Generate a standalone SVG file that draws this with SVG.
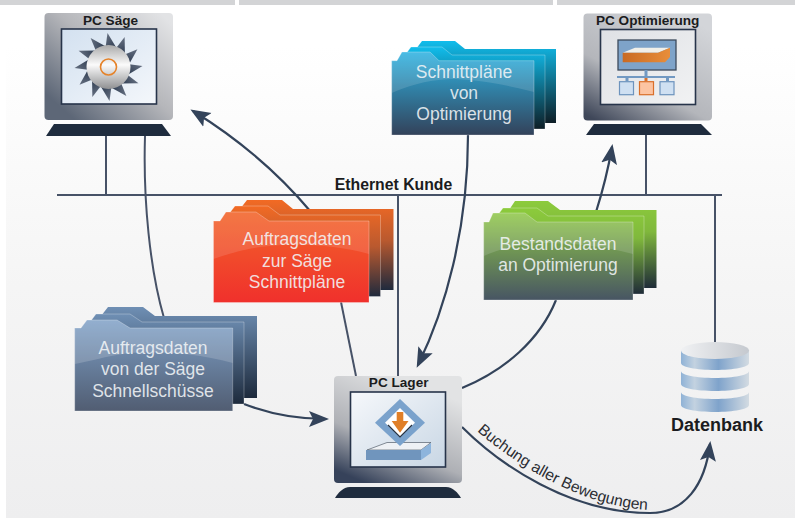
<svg xmlns="http://www.w3.org/2000/svg" xmlns:xlink="http://www.w3.org/1999/xlink" width="795" height="518" viewBox="0 0 795 518">
<style>
text{font-family:"Liberation Sans",Arial,sans-serif}
.title{font-weight:700;font-size:13.6px;fill:#1b1c20;text-anchor:middle}
.fl{font-size:17.5px;fill:#f2f5f7;fill-opacity:.88;text-anchor:middle}
.w{fill:none;stroke:#475267;stroke-width:2}
.a{fill:none;stroke:#33435a;stroke-width:2.2;marker-end:url(#arrow)}
.screen{stroke:#27344a;stroke-width:1.6}
.base{fill:#1f2c3e}
.fb{stroke:#fff;stroke-opacity:.35;stroke-width:.8}
</style>
<defs>
<marker id="arrow" markerUnits="userSpaceOnUse" markerWidth="20" markerHeight="18" viewBox="0 0 20 18" refX="17" refY="9" orient="auto"><path d="M0 1 L20 9 L0 17 L4 9Z" fill="#33435a"/></marker>
<linearGradient id="bg" x1="0" y1="0" x2="0" y2="1"><stop offset=".08" stop-color="#fff"/><stop offset=".55" stop-color="#f5f5f5"/><stop offset="1" stop-color="#eeeeef"/></linearGradient>
<linearGradient id="pcS" x1=".9" y1="0" x2=".05" y2=".8"><stop offset="0" stop-color="#e2e3e5"/><stop offset=".5" stop-color="#b5b6ba"/><stop offset="1" stop-color="#5d6777"/></linearGradient>
<linearGradient id="pcO" x1=".75" y1="0" x2=".1" y2="1"><stop offset="0" stop-color="#d3d5d9"/><stop offset=".6" stop-color="#b4b6bb"/><stop offset="1" stop-color="#3f4759"/></linearGradient>
<linearGradient id="pcL" x1=".7" y1=".1" x2=".25" y2="1"><stop offset="0" stop-color="#e2e3e4"/><stop offset=".6" stop-color="#aeb0b5"/><stop offset="1" stop-color="#36425a"/></linearGradient>
<linearGradient id="scr" x1="0" y1="0" x2="1" y2="1"><stop offset="0" stop-color="#d3e1f0"/><stop offset="1" stop-color="#f4f7fb"/></linearGradient>
<linearGradient id="scrO" x1="0" y1="0" x2="1" y2="1"><stop offset="0" stop-color="#dfe1e5"/><stop offset="1" stop-color="#f1f2f3"/></linearGradient>
<linearGradient id="scrL" x1="0" y1="0" x2="1" y2="1"><stop offset="0" stop-color="#f6f8fb"/><stop offset="1" stop-color="#c8d6e4"/></linearGradient>
<linearGradient id="hub" x1="0" y1="0" x2="0" y2="1"><stop offset="0" stop-color="#a9a9a9"/><stop offset=".45" stop-color="#fbfbfb"/><stop offset="1" stop-color="#8f9092"/></linearGradient>
<linearGradient id="tooth" x1="0" y1="0" x2="1" y2="1"><stop offset="0" stop-color="#6a7485"/><stop offset="1" stop-color="#2c3a4f"/></linearGradient>
<linearGradient id="rB" x1="0" y1="0" x2="0" y2="1"><stop offset="0" stop-color="#f26a24"/><stop offset=".45" stop-color="#b9592f"/><stop offset="1" stop-color="#1f2a3d"/></linearGradient>
<linearGradient id="rF" x1="0" y1="0" x2="0" y2="1"><stop offset="0" stop-color="#f2642a"/><stop offset="1" stop-color="#f0302c"/></linearGradient>
<linearGradient id="uB" x1="0" y1="0" x2="0" y2="1"><stop offset="0" stop-color="#6f8fb4"/><stop offset="1" stop-color="#1d2a3c"/></linearGradient>
<linearGradient id="uF" x1="0" y1="0" x2="0" y2="1"><stop offset="0" stop-color="#7d9fc6"/><stop offset="1" stop-color="#515d72"/></linearGradient>
<linearGradient id="cB" x1="0" y1="0" x2="0" y2="1"><stop offset="0" stop-color="#11bdec"/><stop offset="1" stop-color="#0e1e26"/></linearGradient>
<linearGradient id="cF" x1="0" y1="0" x2="0" y2="1"><stop offset="0" stop-color="#2fb3e2"/><stop offset="1" stop-color="#33425a"/></linearGradient>
<linearGradient id="gB" x1="0" y1="0" x2="0" y2="1"><stop offset="0" stop-color="#8ccb3c"/><stop offset=".35" stop-color="#80b83c"/><stop offset="1" stop-color="#1f2c38"/></linearGradient>
<linearGradient id="gF" x1="0" y1="0" x2="0" y2="1"><stop offset="0" stop-color="#8fc748"/><stop offset="1" stop-color="#475563"/></linearGradient>
<linearGradient id="db" x1="0" y1="0" x2="1" y2="0"><stop offset="0" stop-color="#8fb2d6"/><stop offset=".2" stop-color="#c3d2e0"/><stop offset=".55" stop-color="#7fa3cb"/><stop offset="1" stop-color="#d3dbe2"/></linearGradient>
<linearGradient id="dbt" x1="0" y1="0" x2="1" y2="0"><stop offset="0" stop-color="#f0f1f3"/><stop offset="1" stop-color="#c5c9cf"/></linearGradient>
<linearGradient id="or" x1="0" y1="0" x2="1" y2="0"><stop offset="0" stop-color="#c96a22"/><stop offset="1" stop-color="#e88e3b"/></linearGradient>
<path id="t" d="M-3 -19 L-1 -34 L8 -19Z" fill="url(#tooth)"/>
</defs>
<rect width="795" height="518" fill="#fff"/>
<rect x="6" y="5" width="789" height="513" fill="url(#bg)"/>
<g fill="#d3d4d6"><rect width="235" height="5"/><rect x="239" width="314" height="5"/><rect x="557" width="238" height="5"/></g>

<g id="connectors">
<path class="w" d="M57 195H722"/>
<path class="w" d="M106 136V195M646 135V195M715 195V350M398 195V376"/>
<path class="w" d="M145 136C143 200 150 270 164 318"/>
<path class="a" d="M311 212C280 175 240 140 193 111"/>
<path class="w" d="M341 302L356 376"/>
<path class="a" d="M468 135C468 230 445 310 418 365"/>
<path class="a" d="M596 212C603 190 608 170 612 147"/>
<path class="w" style="stroke:#33435a;stroke-width:2.2" d="M556 300C540 340 505 370 462 388"/>
<path class="a" d="M244 404C270 414 295 419 326 419"/>
<path class="a" d="M462 427C500 465 570 513 650 513C685 513 705 485 710 444"/>
<path id="bp" d="M477 431C510 460 580 508 652 510" fill="none"/>
<text font-size="15.600" fill="#2b2d33"><textPath xlink:href="#bp" href="#bp">Buchung aller Bewegungen</textPath></text>
<text x="393.5" y="190" text-anchor="middle" font-weight="700" font-size="15.800" fill="#1b1c20">Ethernet Kunde</text>
</g>

<g id="pc-saege">
<rect x="44.5" y="13" width="128.5" height="107" rx="4" fill="url(#pcS)"/>
<rect x="61.5" y="29" width="95" height="75" class="screen" fill="url(#scr)"/>
<g transform="translate(108.5 67)">
<use href="#t"/><use href="#t" transform="rotate(30)"/><use href="#t" transform="rotate(60)"/><use href="#t" transform="rotate(90)"/><use href="#t" transform="rotate(120)"/><use href="#t" transform="rotate(150)"/><use href="#t" transform="rotate(180)"/><use href="#t" transform="rotate(210)"/><use href="#t" transform="rotate(240)"/><use href="#t" transform="rotate(270)"/><use href="#t" transform="rotate(300)"/><use href="#t" transform="rotate(330)"/>
<circle r="22" fill="url(#hub)"/><circle r="8" fill="none" stroke="#e5832a" stroke-width="1.6"/>
</g>
<path class="base" d="M46 136L54 124H162L171 136Z"/>
<text class="title" x="110.5" y="25">PC Säge</text>
</g>

<g id="pc-optimierung">
<rect x="583.5" y="13.5" width="128.5" height="107" rx="4" fill="url(#pcO)"/>
<rect x="600.5" y="29.5" width="95" height="75" class="screen" fill="url(#scrO)"/>
<rect x="618" y="40" width="58" height="30" fill="#7ea3c9" stroke="#3c4a5c" stroke-width="1.3"/>
<path d="M622.7 52.7L635 47.7H670L658 52.7Z" fill="#f1efe9"/>
<path d="M622.7 52.7H658L670 47.7V57L665 62.3H622.7Z" fill="url(#or)"/>
<path d="M644.5 70h3v6h-3zM617 76h58v2h-58zM625.5 78h3v3h-3zM666 78h3v3h-3z" fill="#7299c2"/>
<path d="M644.5 78h3v3h-3z" fill="#d9702c"/>
<rect x="619.5" y="81.7" width="14" height="13" fill="#cfe0f2" stroke="#6d93bd" stroke-width="1.2"/>
<rect x="639.5" y="81.7" width="14" height="13" fill="#fcc4a2" stroke="#d96f2b" stroke-width="1.2"/>
<rect x="660" y="81.7" width="14" height="13" fill="#cfe0f2" stroke="#6d93bd" stroke-width="1.2"/>
<path class="base" d="M586 135L594 124H701L712 135Z"/>
<text class="title" x="647.7" y="25">PC Optimierung</text>
</g>

<g id="pc-lager">
<rect x="334" y="376" width="128" height="107" rx="4" fill="url(#pcL)"/>
<rect x="350.5" y="392" width="95" height="75" class="screen" fill="url(#scrL)"/>
<path d="M393 449L400 440L407 449Z" fill="#8b929b"/>
<path d="M367 450L387 442.5H431L421 450Z" fill="#eef1f5" stroke="#555e6c" stroke-width=".7"/>
<rect x="366" y="450" width="55" height="10" fill="#7095bd"/>
<path d="M421 450L431 443V453L421 460Z" fill="#8db4dc"/>
<path d="M400 399L425 422.7L400 446L375 422.7Z" fill="#7aa2cc"/>
<path d="M400 408L415 422.7L400 437L385 422.7Z" fill="#fff"/>
<path d="M388 425L400 437L412 425" fill="none" stroke="#26303f" stroke-width="1.2"/>
<path d="M396.7 412H403.3V421H408.5L400 432.7L391.7 421H396.7Z" fill="#e07f28"/>
<path class="base" d="M335 498C338 493 343 487 350 487H446C453 487 458 493 461 498Z"/>
<text class="title" x="398.7" y="387">PC Lager</text>
</g>

<g id="datenbank">
<path d="M681 392V405C681 409 696 412 715 412S749 409 749 405V392C749 396 734 399 715 399S681 396 681 392Z" fill="url(#db)"/>
<path d="M681 371V384C681 388 696 391 715 391S749 388 749 384V371C749 375 734 378 715 378S681 375 681 371Z" fill="url(#db)"/>
<path d="M681 350V363C681 367 696 370 715 370S749 367 749 363V350Z" fill="url(#db)"/>
<ellipse cx="715" cy="350.5" rx="34" ry="8.5" fill="url(#dbt)"/>
<text x="717" y="431" text-anchor="middle" font-weight="700" font-size="18" fill="#1b1c20">Datenbank</text>
</g>

<g id="folder-auftrag-saege">
<path d="M240 209L247 200H282L293 209H393.5V290H240Z" fill="url(#rB)"/>
<path d="M228 215L235 206H268L280 215H380.5V296.5H228Z" fill="url(#rB)" class="fb"/>
<path d="M213.5 221H220L226 212H256L269 221H369V302.5H213.5Z" fill="url(#rF)" class="fb"/>
<path d="M213.5 221H220L226 212H256L269 221H369V254C330 243 290 244 270 246C245 248 228 254 213.5 259Z" fill="#fff" fill-opacity=".12"/>
<text class="fl" x="297" y="245">Auftragsdaten</text><text class="fl" x="297" y="266.5">zur Säge</text><text class="fl" x="297" y="288">Schnittpläne</text>
</g>

<g id="folder-auftrag-schnell">
<path d="M101 316L108 307H143L155 316H257V398H101Z" fill="url(#uB)"/>
<path d="M90 322L96 314H130L142 322H244V404H90Z" fill="url(#uB)" class="fb"/>
<path d="M74.7 328H81L87 320H117L130 328H232.7V411H74.7Z" fill="url(#uF)" class="fb"/>
<path d="M74.7 328H81L87 320H117L130 328H232.7V363C195 352 150 351 130 353C105 356 88 362 74.7 364Z" fill="#fff" fill-opacity=".17"/>
<text class="fl" x="153" y="353.5">Auftragsdaten</text><text class="fl" x="153" y="375">von der Säge</text><text class="fl" x="153" y="396.5">Schnellschüsse</text>
</g>

<g id="folder-schnittplaene">
<path d="M416 49L422 41H455L465 49H556V123H416Z" fill="url(#cB)"/>
<path d="M405 55L411 47H442L452 55H545V129H405Z" fill="url(#cB)" class="fb"/>
<path d="M391.7 60.7H397L402 52H430L439 60.7H534V135H391.7Z" fill="url(#cF)" class="fb"/>
<path d="M391.7 60.7H397L402 52H430L439 60.7H534V92C500 83 470 79 450 79C425 80 405 87 391.7 93Z" fill="#fff" fill-opacity=".13"/>
<text class="fl" x="464" y="78">Schnittpläne</text><text class="fl" x="464" y="99">von</text><text class="fl" x="464" y="120">Optimierung</text>
</g>

<g id="folder-bestand">
<path d="M509 210L515 201H548L560 210H656.5V288H509Z" fill="url(#gB)"/>
<path d="M497 216L503 208H537L548 216H644V294H497Z" fill="url(#gB)" class="fb"/>
<path d="M483.7 222H489L493 213H525L537 222H633V300H483.7Z" fill="url(#gF)" class="fb"/>
<path d="M483.7 222H489L493 213H525L537 222H633V254C600 245 570 243 540 243C515 244 498 250 483.7 256Z" fill="#fff" fill-opacity=".14"/>
<text class="fl" x="558" y="250">Bestandsdaten</text><text class="fl" x="558" y="271">an Optimierung</text>
</g>
</svg>
